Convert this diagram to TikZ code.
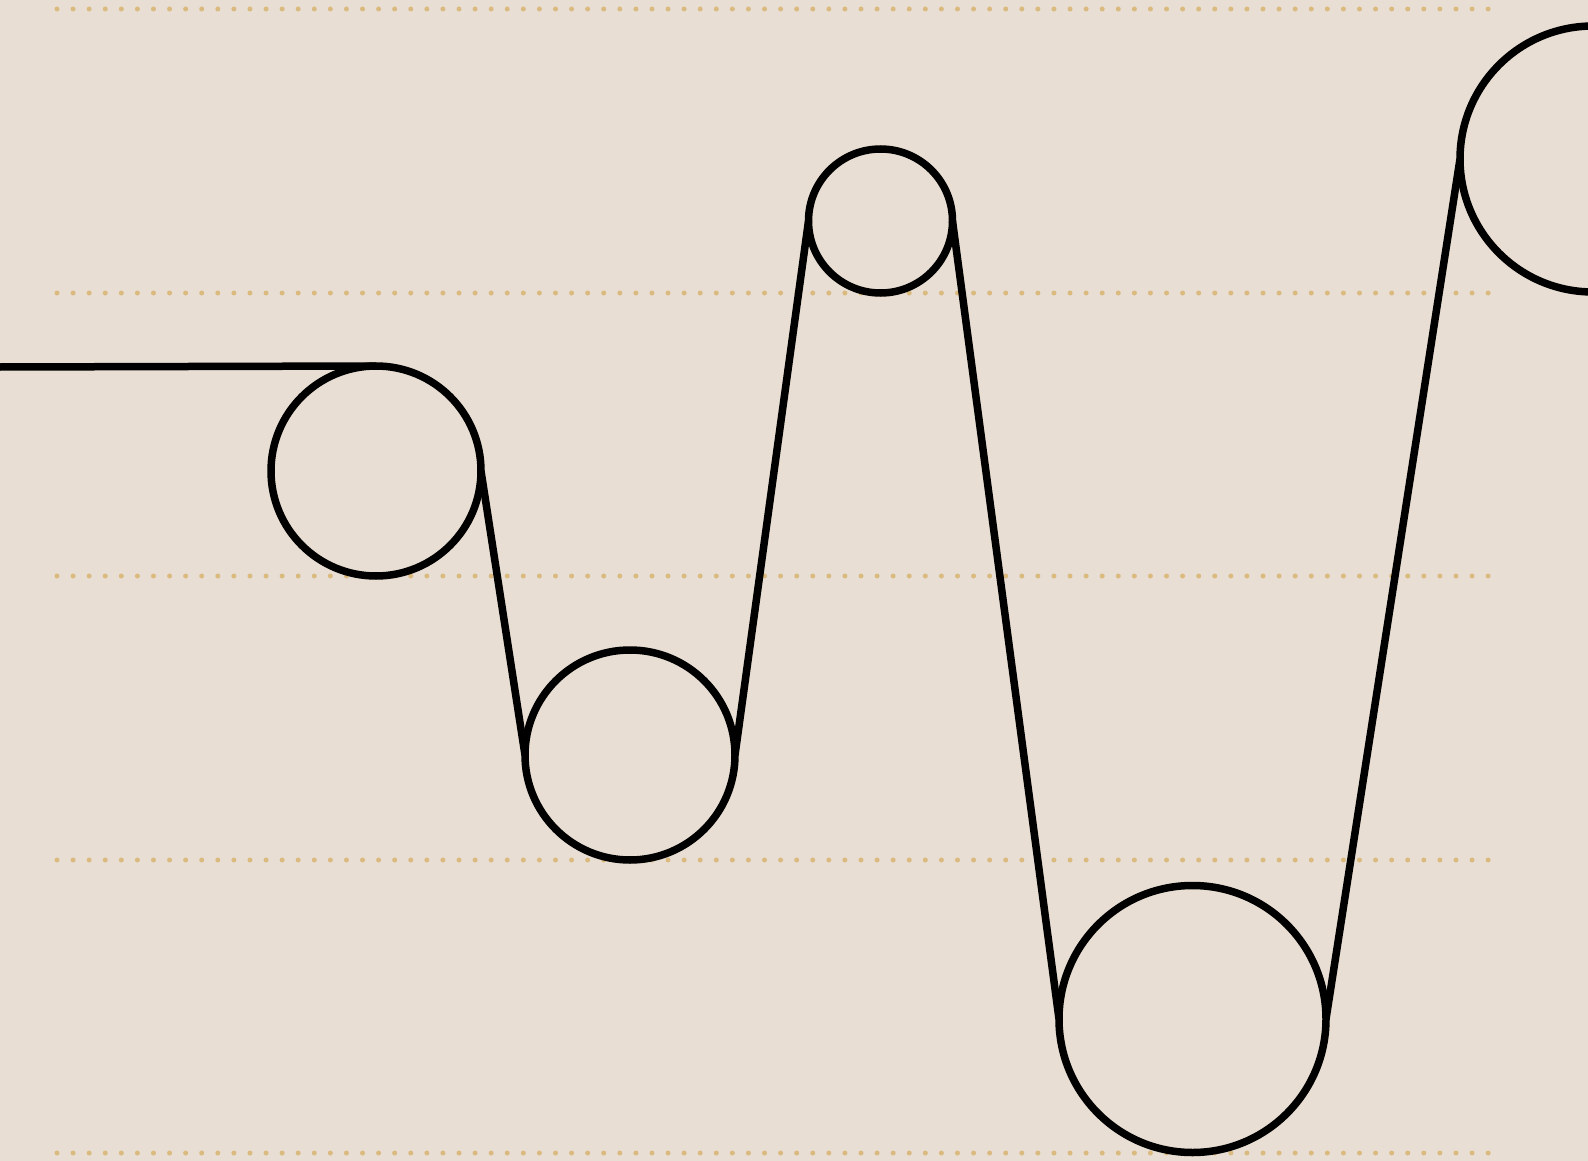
\documentclass[tikz,border=0pt]{standalone}
\definecolor{bgcol}{RGB}{232,222,211}
\definecolor{dotcol}{RGB}{218,186,126}
\tikzset{
  pulley/.style={circle,draw=black,line width=7.5pt,outer sep=0pt,inner sep=0pt},
  belt/.style={draw=black,line width=7.5pt},
  dotline/.style={draw=dotcol,line width=5pt,line cap=round,dash pattern=on 0pt off 16.08pt}
}
\begin{document}
\begin{tikzpicture}[x=1pt,y=-1pt]
\useasboundingbox (0,0) rectangle (1588,1161);
\fill[bgcol] (0,0) rectangle (1588,1161);
\clip (0,0) rectangle (1588,1161);
% dotted guide lines
\foreach \yy in {9,293,576,860,1153}{
  \draw[dotline] (57,\yy) -- (1490,\yy);
}
% pulleys
\node[pulley,minimum size=210pt] (c1) at (376,471) {};
\node[pulley,minimum size=210pt] (c2) at (630,755) {};
\node[pulley,minimum size=144pt] (c3) at (880.5,221) {};
\node[pulley,minimum size=267pt] (c4) at (1192.5,1019) {};
\node[pulley,minimum size=266pt] (c5) at (1593,159) {};
\coordinate (start) at (0,367);
% belt
\draw[belt] (start) -- (c1.north);
\draw[belt] (c1.east) -- (c2.west);
\draw[belt] (c2.east) -- (c3.west);
\draw[belt] (c3.east) -- (c4.west);
\draw[belt] (c4.east) -- (c5.west);
\end{tikzpicture}
\end{document}
